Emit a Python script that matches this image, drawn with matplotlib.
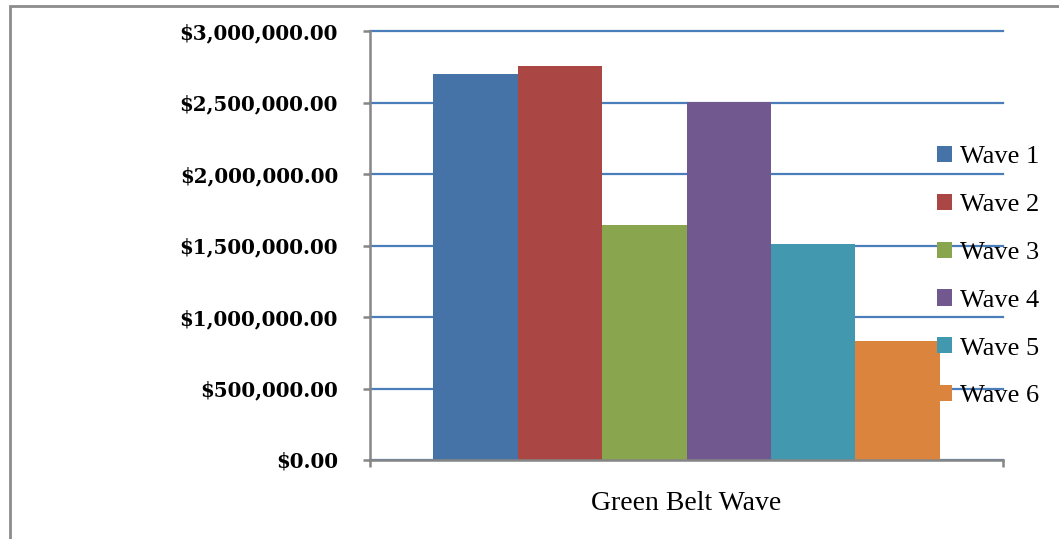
import matplotlib.pyplot as plt
from matplotlib.patches import Rectangle
from matplotlib.ticker import FuncFormatter

category = "Green Belt Wave"
waves = ["Wave 1", "Wave 2", "Wave 3", "Wave 4", "Wave 5", "Wave 6"]
amounts = [2700000, 2755000, 1643000, 2503000, 1510000, 832000]
colors = ["#4572A7", "#AA4643", "#89A54E", "#71588F", "#4198AF", "#DB843D"]

fig = plt.figure(figsize=(10.59, 5.39), dpi=100)
ax = fig.add_axes([370 / 1059, 1 - 460 / 539, 633 / 1059, 429 / 539])

# six bars side by side filling 80% of the single category slot
group = 0.8
w = group / len(waves)
for i, (name, val, c) in enumerate(zip(waves, amounts, colors)):
    x = -group / 2 + w * (i + 0.5)
    ax.bar(x, val, width=w, color=c, label=name, zorder=2)

ax.set_xlim(-0.5, 0.5)
ax.set_ylim(0, 3000000)
ax.set_yticks(range(0, 3000001, 500000))
ax.yaxis.set_major_formatter(FuncFormatter(lambda v, p: f"${v:,.2f}"))
ax.yaxis.grid(True, color="#4A7EBB", linewidth=1.6, zorder=0)
ax.set_axisbelow(True)
for gl in ax.get_ygridlines():
    gl.set_clip_on(False)

ax.set_xticks([0])
ax.set_xticklabels([category], family="Liberation Serif", fontsize=20)
ax.set_xticks([-0.5, 0.5], minor=True)
ax.tick_params(axis="x", which="major", length=0, pad=22)
ax.tick_params(axis="x", which="minor", length=5, width=1.8, color="#868686")
ax.tick_params(axis="y", length=5, width=1.8, color="#868686", pad=18)
for lbl in ax.get_yticklabels():
    lbl.set_family("DejaVu Serif")
    lbl.set_fontweight("bold")
    lbl.set_fontsize(14.3)

for side in ["top", "right"]:
    ax.spines[side].set_visible(False)
for side in ["left", "bottom"]:
    ax.spines[side].set_color("#868686")
    ax.spines[side].set_linewidth(1.8)

leg = ax.legend(loc="upper left", bbox_to_anchor=(937 / 1059, 1 - 146 / 539),
                bbox_transform=fig.transFigure, frameon=False,
                prop={"family": "Liberation Serif", "size": 19},
                handlelength=0.57, handleheight=0.57, handletextpad=0.3,
                labelspacing=0.96, borderpad=0, borderaxespad=0)
leg.set_zorder(5)

# thin grey frame around the chart area
fig.patches.append(Rectangle((10 / 1059, -0.1), 1.2, 1 - 6 / 539 + 0.1,
                             transform=fig.transFigure, fill=False,
                             edgecolor="#8C8C8C", linewidth=2))

fig.savefig("out.png", dpi=100)
